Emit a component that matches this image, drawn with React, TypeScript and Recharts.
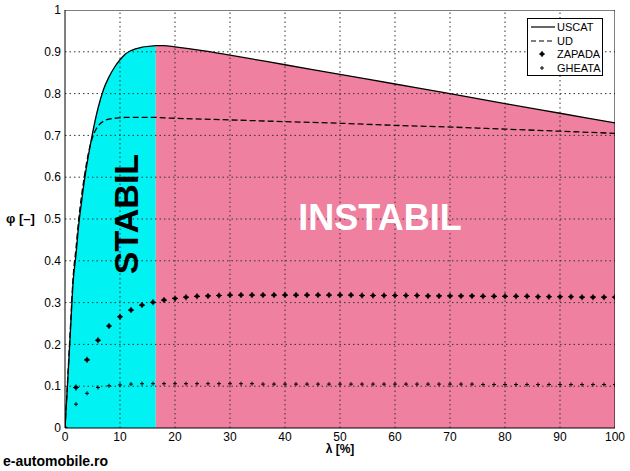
import type { ReactElement } from "react";
import {
  Area,
  ComposedChart,
  Line,
  Scatter,
  XAxis,
  YAxis,
} from "recharts";

// slip λ [%] where the continuous curves are sampled
const lambdaX = [
  0, 0.5, 1, 1.5, 2, 2.5, 3, 3.5, 4, 5, 6, 7, 8, 9, 10, 11, 12, 14, 16, 16.5,
  18, 20, 25, 30, 40, 50, 60, 70, 80, 90, 100,
];
// adhesion coefficient, dry road
const uscatPhi = [
  0, 0.115, 0.235, 0.354, 0.415, 0.487, 0.54, 0.59, 0.632, 0.705, 0.765, 0.81,
  0.84, 0.863, 0.881, 0.895, 0.903, 0.911, 0.914, 0.915, 0.915, 0.912, 0.903,
  0.892, 0.869, 0.846, 0.823, 0.8, 0.776, 0.753, 0.73,
];
// wet road
const udPhi = [
  0, 0.12, 0.245, 0.365, 0.43, 0.5, 0.555, 0.6, 0.64, 0.695, 0.722, 0.734,
  0.739, 0.741, 0.742, 0.743, 0.743, 0.743, 0.743, 0.743, 0.742, 0.741, 0.739,
  0.737, 0.733, 0.729, 0.724, 0.72, 0.715, 0.71, 0.705,
];

// snow / ice are sampled every 2 %
const pointsX = [
  0, 2, 4, 6, 8, 10, 12, 14, 16, 18, 20, 22, 24, 26, 28, 30, 32, 34, 36, 38,
  40, 42, 44, 46, 48, 50, 52, 54, 56, 58, 60, 62, 64, 66, 68, 70, 72, 74, 76,
  78, 80, 82, 84, 86, 88, 90, 92, 94, 96, 98, 100,
];
const zapadaPhi = [
  0, 0.097, 0.163, 0.21, 0.244, 0.266, 0.282, 0.294, 0.301, 0.306, 0.31, 0.313,
  0.315, 0.316, 0.317, 0.318, 0.318, 0.318, 0.318, 0.318, 0.318, 0.318, 0.318,
  0.318, 0.318, 0.318, 0.318, 0.317, 0.317, 0.317, 0.317, 0.317, 0.317, 0.316,
  0.316, 0.316, 0.316, 0.316, 0.315, 0.315, 0.315, 0.315, 0.315, 0.314, 0.314,
  0.314, 0.314, 0.313, 0.313, 0.313, 0.313,
];
const gheataPhi = [
  0, 0.057, 0.083, 0.097, 0.101, 0.103, 0.105, 0.106, 0.106, 0.106, 0.106,
  0.106, 0.106, 0.106, 0.106, 0.106, 0.106, 0.106, 0.105, 0.105, 0.105, 0.105,
  0.105, 0.105, 0.105, 0.105, 0.105, 0.105, 0.105, 0.105, 0.105, 0.105, 0.105,
  0.105, 0.105, 0.105, 0.105, 0.105, 0.104, 0.104, 0.104, 0.104, 0.104, 0.104,
  0.104, 0.104, 0.104, 0.104, 0.104, 0.104, 0.104,
];

const xTicks = [0, 10, 20, 30, 40, 50, 60, 70, 80, 90, 100];
const yTicks = [0, 0.1, 0.2, 0.3, 0.4, 0.5, 0.6, 0.7, 0.8, 0.9, 1];
const STABIL_LIMIT = 16.5;

const curveRows = lambdaX.map((x, i) => ({
  x,
  uscat: uscatPhi[i],
  ud: udPhi[i],
  stabil: x <= STABIL_LIMIT ? uscatPhi[i] : null,
  instabil: x >= STABIL_LIMIT ? uscatPhi[i] : null,
}));
const zapadaRows = pointsX.map((x, i) => ({ x, y: zapadaPhi[i] }));
const gheataRows = pointsX.map((x, i) => ({ x, g: gheataPhi[i] }));

// grid segments (drawn above the fills, like the original)
const vGrid = xTicks.slice(1, -1).map((t) => [{ x: t, g: 0 }, { x: t, g: 1 }]);
const hGrid = yTicks.slice(1, -1).map((t) => [{ x: 0, g: t }, { x: 100, g: t }]);
const boxEdges = [
  [{ x: 0, g: 1 }, { x: 100, g: 1 }],
  [{ x: 100, g: 0 }, { x: 100, g: 1 }],
];

const FONT = "'Liberation Sans', Arial, sans-serif";
const CYAN = "#00F2F2";
const PINK = "#F080A0";

function SnowMark(props: any): ReactElement {
  const { cx, cy } = props;
  return (
    <g>
      <circle cx={cx} cy={cy} r={2} fill="#000" />
      <path d={`M${cx - 3},${cy}H${cx + 3}M${cx},${cy - 3}V${cy + 3}`} stroke="#000" strokeWidth={1.1} />
    </g>
  );
}

function IceMark(props: any): ReactElement {
  const { cx, cy } = props;
  return (
    <path d={`M${cx - 2},${cy}H${cx + 2}M${cx},${cy - 2}V${cy + 2}`} stroke="#000" strokeWidth={1} />
  );
}

function LegendBox(): ReactElement {
  const row = { position: "absolute" as const, left: 29, fontSize: 11, lineHeight: "12px" };
  return (
    <div
      style={{
        position: "absolute",
        left: 527,
        top: 18,
        width: 76,
        height: 58,
        border: "1px solid #000",
        background: "#fff",
        boxSizing: "border-box",
        fontFamily: FONT,
      }}
    >
      <svg width={28} height={56} style={{ position: "absolute", left: 0, top: 0 }}>
        <line x1={3} x2={27} y1={8} y2={8} stroke="#000" strokeWidth={1.2} />
        <line x1={3} x2={27} y1={22} y2={22} stroke="#000" strokeWidth={1.2} strokeDasharray="5 3" />
        <SnowMark cx={14} cy={35} />
        <IceMark cx={14} cy={49} />
      </svg>
      <div style={{ ...row, top: 2 }}>USCAT</div>
      <div style={{ ...row, top: 16 }}>UD</div>
      <div style={{ ...row, top: 29 }}>ZAPADA</div>
      <div style={{ ...row, top: 43 }}>GHEATA</div>
    </div>
  );
}

export default function App(): ReactElement {
  return (
    <div style={{ position: "absolute", left: 0, top: 0, width: 630, height: 471, background: "#fff", fontFamily: FONT }}>
      <ComposedChart
        width={630}
        height={471}
        data={curveRows}
        margin={{ top: 10, right: 15, left: 5, bottom: 0 }}
      >
        <XAxis
          dataKey="x"
          type="number"
          domain={[0, 100]}
          ticks={xTicks}
          height={43}
          tickSize={0}
          tickMargin={4}
          axisLine={{ stroke: "#000" }}
          tick={{ fill: "#000", fontSize: 12, fontFamily: FONT }}
          allowDataOverflow
        />
        <YAxis
          type="number"
          domain={[0, 1]}
          ticks={yTicks}
          width={60}
          tickSize={0}
          tickMargin={4}
          axisLine={{ stroke: "#000" }}
          tick={{ fill: "#000", fontSize: 12, fontFamily: FONT }}
          allowDataOverflow
        />
        <Area
          dataKey="stabil"
          type="monotone"
          fill={CYAN}
          fillOpacity={1}
          stroke="none"
          connectNulls
          isAnimationActive={false}
        />
        <Area
          dataKey="instabil"
          type="monotone"
          fill={PINK}
          fillOpacity={1}
          stroke="none"
          connectNulls
          isAnimationActive={false}
        />
        {[...vGrid, ...hGrid].map((seg, i) => (
          <Line
            key={`grid${i}`}
            data={seg}
            dataKey="g"
            type="linear"
            stroke="#333"
            strokeWidth={1}
            strokeDasharray="1.5 3"
            dot={false}
            activeDot={false}
            isAnimationActive={false}
          />
        ))}
        {boxEdges.map((seg, i) => (
          <Line
            key={`box${i}`}
            data={seg}
            dataKey="g"
            type="linear"
            stroke="#000"
            strokeWidth={1}
            dot={false}
            activeDot={false}
            isAnimationActive={false}
          />
        ))}
        <Line
          dataKey="uscat"
          type="monotone"
          stroke="#000"
          strokeWidth={1.3}
          dot={false}
          isAnimationActive={false}
        />
        <Line
          dataKey="ud"
          type="monotone"
          stroke="#000"
          strokeWidth={1.3}
          strokeDasharray="6 3"
          dot={false}
          isAnimationActive={false}
        />
        <Scatter data={zapadaRows} dataKey="y" shape={SnowMark} isAnimationActive={false} />
        <Scatter data={gheataRows} dataKey="g" shape={IceMark} isAnimationActive={false} />
      </ComposedChart>

      <LegendBox />

      <div
        style={{
          position: "absolute",
          left: 126,
          top: 214,
          transform: "translate(-50%, -50%) rotate(-90deg)",
          fontSize: 34,
          fontWeight: "bold",
          color: "#000",
          whiteSpace: "nowrap",
        }}
      >
        STABIL
      </div>
      <div
        style={{
          position: "absolute",
          left: 380,
          top: 218,
          transform: "translate(-50%, -50%)",
          fontSize: 36,
          fontWeight: "bold",
          color: "#fff",
          whiteSpace: "nowrap",
        }}
      >
        INSTABIL
      </div>
      <div style={{ position: "absolute", left: 340, top: 442, transform: "translateX(-50%)", fontSize: 12, fontWeight: "bold" }}>
        λ [%]
      </div>
      <div style={{ position: "absolute", left: 6, top: 211, fontSize: 13, fontWeight: "bold" }}>φ [–]</div>
      <div style={{ position: "absolute", left: 3, top: 453, fontSize: 14, fontWeight: "bold" }}>e-automobile.ro</div>
    </div>
  );
}
